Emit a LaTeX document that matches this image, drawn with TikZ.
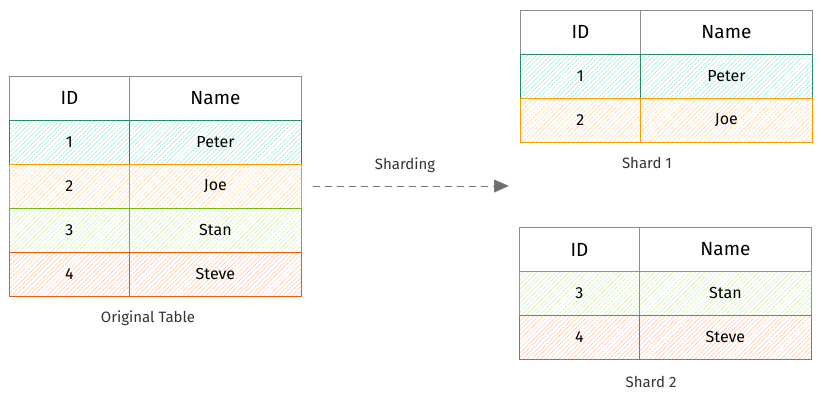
\documentclass[tikz,border=0pt]{standalone}
\usepackage{fontspec}
\setmainfont{Fira Sans}
\usetikzlibrary{arrows.meta,patterns.meta}
\definecolor{hdrline}{HTML}{868E96}
\definecolor{tealline}{HTML}{2B8A6E}
\definecolor{tealfill}{HTML}{A6E9D2}
\definecolor{orgline}{HTML}{F59F00}
\definecolor{orgfill}{HTML}{FFD8A8}
\definecolor{limeline}{HTML}{74B816}
\definecolor{limefill}{HTML}{D3F0B0}
\definecolor{redline}{HTML}{E8590C}
\definecolor{redfill}{HTML}{FFC9A8}
\definecolor{arrowgray}{HTML}{7A7A7A}
\tikzset{
  cell/.style={anchor=north west, minimum height=44pt, inner sep=0pt, line width=0.9pt, font=\fontsize{16}{18}\selectfont},
  idcol/.style={cell, minimum width=120pt},
  namecol/.style={cell, minimum width=172pt},
  hdr/.style={draw=hdrline, fill=white, font=\fontsize{19}{22}\selectfont},
  hatched/.style={pattern={Lines[angle=45,distance=3.2pt,line width=0.5pt]}},
  tealrow/.style={draw=tealline, hatched, pattern color=tealfill},
  orgrow/.style={draw=orgline, hatched, pattern color=orgfill},
  limerow/.style={draw=limeline, hatched, pattern color=limefill},
  redrow/.style={draw=redline, hatched, pattern color=redfill},
  caption/.style={font=\fontsize{15}{17}\selectfont, text=black!80},
}
\begin{document}
\begin{tikzpicture}[x=1pt, y=-1pt, >=Stealth]
\useasboundingbox (0,0) rectangle (821,402);
% --- Original table ---
\node[idcol,hdr] (oid) at (9,76) {ID};
\node[namecol,hdr] (oname) at (129,76) {Name};
\foreach \r/\who/\rowstyle in {1/Peter/tealrow,2/Joe/orgrow,3/Stan/limerow,4/Steve/redrow}
  {\node[idcol,\rowstyle] (oid\r) at (9,76+44*\r) {\r};
   \node[namecol,\rowstyle] (oname\r) at (129,76+44*\r) {\who};}
\node[caption] (olabel) at (148,318) {Original Table};
% --- Sharding arrow ---
\coordinate (split) at (313,186);
\coordinate (gather) at (509,186);
\draw[arrowgray, line width=1pt, dash pattern=on 7pt off 5pt,
  -{Triangle[length=15pt,width=13pt,fill=arrowgray!90!black]}] (split) -- (gather);
\node[caption] (slabel) at (405,165) {Sharding};
% --- Shard 1 ---
\node[idcol,hdr] (aid) at (520,10) {ID};
\node[namecol,hdr] (aname) at (640,10) {Name};
\foreach \r/\who/\rowstyle in {1/Peter/tealrow,2/Joe/orgrow}
  {\node[idcol,\rowstyle] (aid\r) at (520,10+44*\r) {\r};
   \node[namecol,\rowstyle] (aname\r) at (640,10+44*\r) {\who};}
\node[caption] (alabel) at (647,163) {Shard 1};
% --- Shard 2 ---
\node[idcol,hdr] (bid) at (519,227) {ID};
\node[namecol,hdr] (bname) at (639,227) {Name};
\foreach \r/\id/\who/\rowstyle in {1/3/Stan/limerow,2/4/Steve/redrow}
  {\node[idcol,\rowstyle] (bid\r) at (519,227+44*\r) {\id};
   \node[namecol,\rowstyle] (bname\r) at (639,227+44*\r) {\who};}
\node[caption] (blabel) at (651,382) {Shard 2};
\end{tikzpicture}
\end{document}
